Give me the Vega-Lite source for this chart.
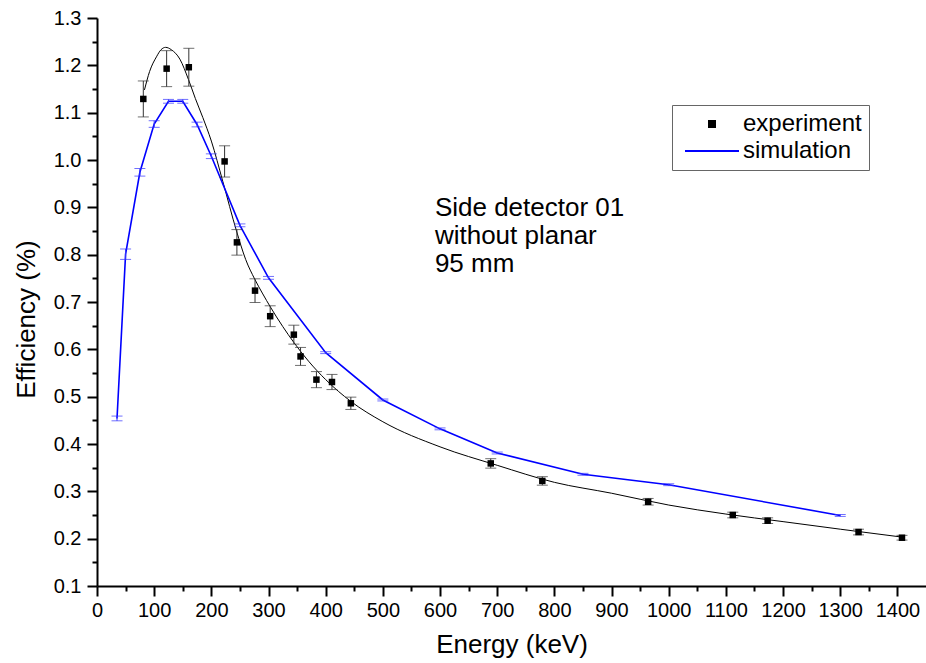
{
  "$schema": "https://vega.github.io/schema/vega-lite/v6.json",
  "width": 829,
  "height": 568,
  "autosize": "none",
  "padding": {"left": 97, "top": 18, "right": 0, "bottom": 77},
  "background": "white",
  "config": {
    "font": "Liberation Sans",
    "view": {"stroke": null},
    "axis": {"grid": false, "domainColor": "black", "domainWidth": 2, "tickColor": "black", "tickWidth": 2, "labelColor": "black", "titleColor": "black", "labelFont": "Liberation Sans", "titleFont": "Liberation Sans", "titleFontWeight": "normal"}
  },
  "datasets": {
    "exp": [
      {"E": 81, "eff": 1.129, "err": 0.038, "series": "experiment"},
      {"E": 121.8, "eff": 1.193, "err": 0.038, "series": "experiment"},
      {"E": 160.6, "eff": 1.196, "err": 0.040, "series": "experiment"},
      {"E": 223.2, "eff": 0.997, "err": 0.033, "series": "experiment"},
      {"E": 244.7, "eff": 0.826, "err": 0.027, "series": "experiment"},
      {"E": 276.4, "eff": 0.724, "err": 0.025, "series": "experiment"},
      {"E": 302.9, "eff": 0.670, "err": 0.022, "series": "experiment"},
      {"E": 344.3, "eff": 0.631, "err": 0.020, "series": "experiment"},
      {"E": 356.0, "eff": 0.585, "err": 0.019, "series": "experiment"},
      {"E": 383.8, "eff": 0.536, "err": 0.017, "series": "experiment"},
      {"E": 411.0, "eff": 0.531, "err": 0.016, "series": "experiment"},
      {"E": 444.0, "eff": 0.486, "err": 0.013, "series": "experiment"},
      {"E": 688.7, "eff": 0.359, "err": 0.010, "series": "experiment"},
      {"E": 778.9, "eff": 0.322, "err": 0.009, "series": "experiment"},
      {"E": 964.0, "eff": 0.278, "err": 0.007, "series": "experiment"},
      {"E": 1112.0, "eff": 0.250, "err": 0.006, "series": "experiment"},
      {"E": 1173.0, "eff": 0.238, "err": 0.006, "series": "experiment"},
      {"E": 1332.0, "eff": 0.214, "err": 0.006, "series": "experiment"},
      {"E": 1408.0, "eff": 0.202, "err": 0.005, "series": "experiment"}
    ],
    "sim": [
      {"E": 35, "eff": 0.454, "err": 0.005, "series": "simulation"},
      {"E": 50, "eff": 0.801, "err": 0.011, "series": "simulation"},
      {"E": 75, "eff": 0.974, "err": 0.008, "series": "simulation"},
      {"E": 100, "eff": 1.076, "err": 0.007, "series": "simulation"},
      {"E": 125, "eff": 1.124, "err": 0.004, "series": "simulation"},
      {"E": 150, "eff": 1.124, "err": 0.004, "series": "simulation"},
      {"E": 175, "eff": 1.075, "err": 0.005, "series": "simulation"},
      {"E": 200, "eff": 1.008, "err": 0.005, "series": "simulation"},
      {"E": 250, "eff": 0.862, "err": 0.003, "series": "simulation"},
      {"E": 300, "eff": 0.751, "err": 0.003, "series": "simulation"},
      {"E": 400, "eff": 0.593, "err": 0.002, "series": "simulation"},
      {"E": 500, "eff": 0.493, "err": 0.002, "series": "simulation"},
      {"E": 600, "eff": 0.432, "err": 0.002, "series": "simulation"},
      {"E": 700, "eff": 0.381, "err": 0.002, "series": "simulation"},
      {"E": 850, "eff": 0.336, "err": 0.002, "series": "simulation"},
      {"E": 1000, "eff": 0.314, "err": 0.002, "series": "simulation"},
      {"E": 1300, "eff": 0.249, "err": 0.002, "series": "simulation"}
    ],
    "fit": [
      {"E": 83, "eff": 1.148}, {"E": 92, "eff": 1.187}, {"E": 104, "eff": 1.218},
      {"E": 112, "eff": 1.233}, {"E": 120, "eff": 1.238}, {"E": 130, "eff": 1.233},
      {"E": 145, "eff": 1.213}, {"E": 160, "eff": 1.17}, {"E": 172, "eff": 1.13},
      {"E": 185, "eff": 1.09}, {"E": 200, "eff": 1.04}, {"E": 220, "eff": 0.955},
      {"E": 244, "eff": 0.85}, {"E": 260, "eff": 0.79}, {"E": 276, "eff": 0.748},
      {"E": 290, "eff": 0.717}, {"E": 303, "eff": 0.69}, {"E": 325, "eff": 0.648},
      {"E": 344, "eff": 0.615}, {"E": 370, "eff": 0.575}, {"E": 400, "eff": 0.536},
      {"E": 444, "eff": 0.49}, {"E": 500, "eff": 0.447}, {"E": 600, "eff": 0.394},
      {"E": 700, "eff": 0.355}, {"E": 800, "eff": 0.319}, {"E": 900, "eff": 0.296},
      {"E": 1000, "eff": 0.271}, {"E": 1100, "eff": 0.252}, {"E": 1200, "eff": 0.236},
      {"E": 1300, "eff": 0.220}, {"E": 1410, "eff": 0.203}
    ],
    "notes": [
      {"E": 591, "eff": 0.8815, "label": "Side detector 01"},
      {"E": 591, "eff": 0.822, "label": "without planar"},
      {"E": 591, "eff": 0.763, "label": "95 mm"}
    ]
  },
  "layer": [
    {
      "data": {"name": "fit"},
      "mark": {"type": "line", "color": "black", "strokeWidth": 1, "interpolate": "monotone"},
      "encoding": {
        "x": {"field": "E", "type": "quantitative", "scale": {"domain": [0, 1450], "nice": false, "zero": false},
          "axis": {"orient": "bottom", "values": [0,100,200,300,400,500,600,700,800,900,1000,1100,1200,1300,1400], "format": "d", "tickSize": 10, "labelFontSize": 20, "labelPadding": 4, "title": "Energy (keV)", "titleFontSize": 26, "titlePadding": 11, "labelFlush": false, "labelOverlap": false}},
        "y": {"field": "eff", "type": "quantitative", "scale": {"domain": [0.1, 1.3], "nice": false, "zero": false},
          "axis": {"orient": "left", "values": [0.1,0.2,0.3,0.4,0.5,0.6,0.7,0.8,0.9,1.0,1.1,1.2,1.3], "format": ".1f", "tickSize": 10, "labelFontSize": 20, "labelPadding": 6, "title": "Efficiency (%)", "titleFontSize": 26, "titlePadding": 14, "titleY": 301, "labelFlush": false, "labelOverlap": false}}
      }
    },
    {
      "data": {"name": "sim"},
      "mark": {"type": "line", "strokeWidth": 1.6},
      "encoding": {
        "x": {"field": "E", "type": "quantitative",
          "axis": {"orient": "bottom", "values": [50,150,250,350,450,550,650,750,850,950,1050,1150,1250,1350], "tickSize": 5, "labels": false, "domain": false, "title": null}},
        "y": {"field": "eff", "type": "quantitative",
          "axis": {"orient": "left", "values": [0.15,0.25,0.35,0.45,0.55,0.65,0.75,0.85,0.95,1.05,1.15,1.25], "tickSize": 5, "labels": false, "domain": false, "title": null}},
        "color": {"field": "series", "type": "nominal",
          "scale": {"domain": ["experiment", "simulation"], "range": ["black", "#0000ff"]},
          "legend": {"orient": "none", "legendX": 575, "legendY": 87, "title": null, "strokeColor": "#666", "padding": 7, "labelFontSize": 24, "labelFont": "Liberation Sans", "labelColor": "black", "symbolSize": 100, "symbolOffset": 21, "labelOffset": 19, "rowPadding": 3,
            "encode": {"symbols": {"update": {
              "shape": {"signal": "datum.value === 'experiment' ? 'square' : 'M-5.4,0H5.4'"},
              "size": {"signal": "datum.value === 'experiment' ? 36 : 100"},
              "fill": {"signal": "datum.value === 'experiment' ? 'black' : 'transparent'"},
              "stroke": {"signal": "datum.value === 'experiment' ? 'transparent' : '#3333ff'"},
              "strokeWidth": {"value": 2},
              "opacity": {"value": 1}
            }}}}}
      }
    },
    {
      "data": {"name": "sim"},
      "mark": {"type": "errorbar", "ticks": {"size": 11, "color": "#3333ff"}, "rule": {"color": "#3333ff"}},
      "encoding": {
        "x": {"field": "E", "type": "quantitative", "axis": null},
        "y": {"field": "eff", "type": "quantitative", "axis": null},
        "yError": {"field": "err"}
      }
    },
    {
      "data": {"name": "exp"},
      "mark": {"type": "errorbar", "ticks": {"size": 11, "color": "#333"}, "rule": {"color": "#333"}},
      "encoding": {
        "x": {"field": "E", "type": "quantitative", "axis": null},
        "y": {"field": "eff", "type": "quantitative", "axis": null},
        "yError": {"field": "err"}
      }
    },
    {
      "data": {"name": "exp"},
      "mark": {"type": "point", "shape": "square", "filled": true, "size": 42, "opacity": 1},
      "encoding": {
        "x": {"field": "E", "type": "quantitative", "axis": null},
        "y": {"field": "eff", "type": "quantitative", "axis": null},
        "color": {"field": "series", "type": "nominal"}
      }
    },
    {
      "data": {"name": "notes"},
      "mark": {"type": "text", "align": "left", "baseline": "alphabetic", "fontSize": 26, "font": "Liberation Sans", "color": "black"},
      "encoding": {
        "x": {"field": "E", "type": "quantitative", "axis": null},
        "y": {"field": "eff", "type": "quantitative", "axis": null},
        "text": {"field": "label"}
      }
    }
  ],
  "resolve": {"axis": {"x": "independent", "y": "independent"}}
}
